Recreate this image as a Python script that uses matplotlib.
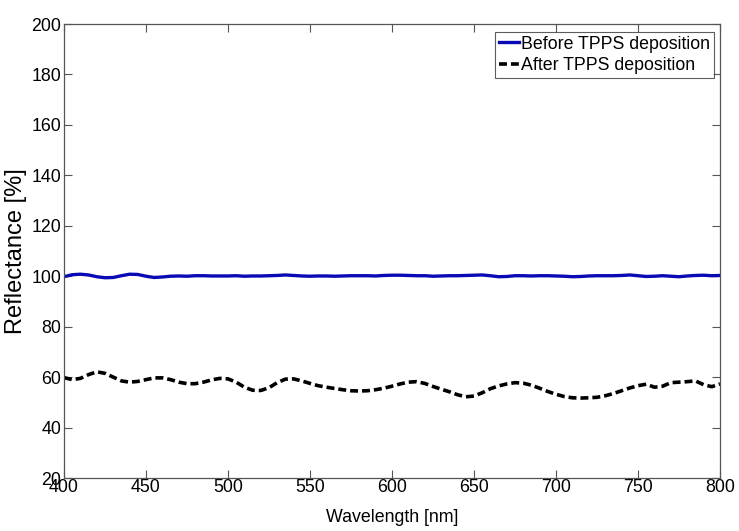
import matplotlib
matplotlib.use("Agg")
import matplotlib.pyplot as plt

# ---- data ----
wavelength = list(range(400, 801, 5))

refl_before = [99.8, 100.6, 100.8, 100.5, 99.8, 99.4, 99.5, 100.2, 100.8, 100.7,
               100.0, 99.5, 99.7, 100.0, 100.1, 100.0, 100.2, 100.2, 100.1, 100.1,
               100.1, 100.2, 100.0, 100.1, 100.1, 100.2, 100.3, 100.5, 100.3, 100.1,
               100.0, 100.1, 100.1, 100.0, 100.1, 100.2, 100.2, 100.2, 100.1, 100.3,
               100.4, 100.4, 100.3, 100.2, 100.2, 100.0, 100.1, 100.2, 100.2, 100.3,
               100.4, 100.5, 100.2, 99.8, 99.9, 100.2, 100.2, 100.1, 100.2, 100.2,
               100.1, 100.0, 99.8, 99.9, 100.1, 100.2, 100.2, 100.2, 100.3, 100.5,
               100.2, 99.9, 100.0, 100.2, 100.0, 99.8, 100.1, 100.3, 100.4, 100.2,
               100.3]

refl_after = [59.8, 59.0, 59.5, 61.0, 62.1, 61.5, 60.0, 58.5, 58.0, 58.3,
              59.0, 59.7, 59.7, 59.0, 58.0, 57.4, 57.4, 58.0, 58.9, 59.5,
              59.3, 58.0, 56.0, 54.8, 54.7, 55.8, 57.8, 59.2, 59.3, 58.5,
              57.5, 56.6, 56.0, 55.5, 55.0, 54.6, 54.5, 54.6, 55.0, 55.6,
              56.4, 57.3, 58.0, 58.2, 57.5, 56.3, 55.2, 54.2, 53.0, 52.2,
              52.5, 53.8, 55.4, 56.5, 57.3, 57.8, 57.6, 56.8, 55.6, 54.3,
              53.2, 52.3, 51.8, 51.7, 51.8, 52.0, 52.6, 53.5, 54.6, 55.7,
              56.6, 57.2, 56.0, 56.4, 57.8, 58.0, 58.2, 58.5, 57.0, 56.2,
              57.3]

legend_labels = ["Before TPPS deposition", "After TPPS deposition"]
x_label = "Wavelength [nm]"
y_label = "Reflectance [%]"
x_ticks = list(range(400, 801, 50))
y_ticks = list(range(20, 201, 20))

plt.rcParams['font.family'] = ['Liberation Sans', 'DejaVu Sans']
fs = 12.8

fig = plt.figure(figsize=(7.39, 5.31), dpi=100)
ax = fig.add_axes([0.0866, 0.0998, 0.9743 - 0.0866, 0.9548 - 0.0998])

ax.plot(wavelength, refl_before, color='#0a0ab4', lw=2.4, label=legend_labels[0])
ax.plot(wavelength, refl_after, color='black', lw=2.6, linestyle=(0, (2.2, 1.1)),
        label=legend_labels[1])

ax.set_xlim(400, 800)
ax.set_ylim(20, 200)
ax.set_xticks(x_ticks)
ax.set_yticks(y_ticks)
ax.tick_params(direction='in', length=6, width=0.8, color='#555555', top=True, right=True,
               labelsize=fs)
ax.tick_params(axis='x', pad=1)
ax.tick_params(axis='y', pad=2)
for s in ax.spines.values():
    s.set_color('#555555')
    s.set_linewidth(0.9)

ax.set_xlabel(x_label, fontsize=fs, labelpad=9)
ax.set_ylabel(y_label, fontsize=17, labelpad=3)

leg = ax.legend(loc='upper right', bbox_to_anchor=(0.996, 0.99), fontsize=fs, frameon=True,
                fancybox=False, edgecolor='#333333', handlelength=1.1, handletextpad=0.15,
                borderpad=0.2, labelspacing=0.25, borderaxespad=0.2)
leg.get_frame().set_linewidth(0.8)

fig.savefig("out.png", dpi=100)
